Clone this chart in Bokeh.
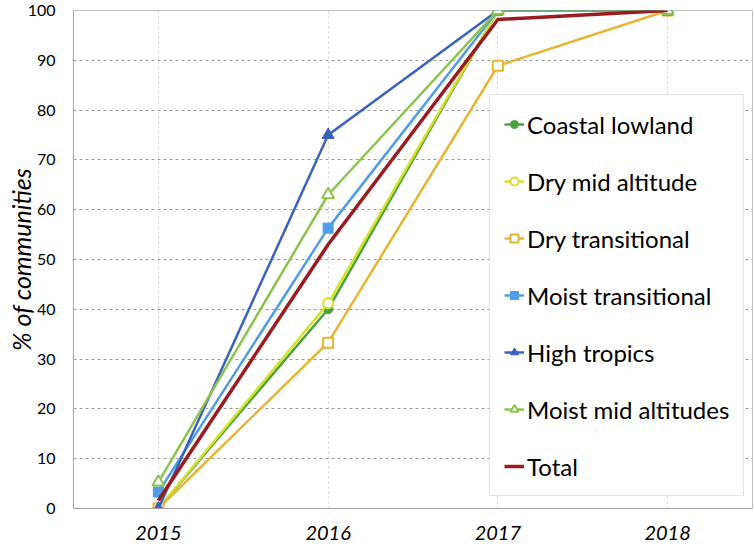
from bokeh.plotting import figure
from bokeh.models import FactorRange, Range1d, Legend, SingleIntervalTicker
from bokeh.embed import file_html
from bokeh.resources import INLINE

years = ["2015", "2016", "2017", "2018"]

coastal_lowland = [0, 40, 100, 100]
dry_mid_altitude = [0, 41.2, 100, 100]
dry_transitional = [0, 33.3, 88.9, 100]
moist_transitional = [3.3, 56.3, 100, 100]
high_tropics = [0, 75, 100, 100]
moist_mid_altitudes = [5.3, 63, 100, 100]
total = [1.6, 53, 98.2, 100]

series_names = ["Coastal lowland", "Dry mid altitude", "Dry transitional",
                "Moist transitional", "High tropics", "Moist mid altitudes", "Total"]
y_title = "% of communities"

FONT = "Lato"

p = figure(width=754, height=546, x_range=FactorRange(*years), y_range=Range1d(0, 100),
           output_backend="svg", toolbar_location=None,
           min_border_left=73, min_border_right=2, min_border_top=10, min_border_bottom=38)

p.background_fill_color = "white"
p.border_fill_color = "white"
p.outline_line_color = "#bfbfbf"
p.outline_line_width = 1

# grids
p.ygrid.grid_line_color = "#999999"
p.ygrid.grid_line_dash = "3 3"
p.ygrid.grid_line_width = 1
p.xgrid.grid_line_color = "#d0d0d0"
p.xgrid.grid_line_dash = "2 3"
p.xgrid.grid_line_width = 1

# axes
p.yaxis.ticker = SingleIntervalTicker(interval=10, num_minor_ticks=0)
for ax in (p.xaxis[0], p.yaxis[0]):
    ax.axis_line_color = "#a6a6a6"
    ax.major_tick_line_color = None
    ax.minor_tick_line_color = None
    ax.major_tick_out = 0
    ax.major_tick_in = 0
    ax.major_label_text_font = FONT
    ax.major_label_text_color = "black"

p.yaxis.major_label_text_font_size = "16px"
p.yaxis.major_label_standoff = 18
p.yaxis.axis_label = y_title
p.yaxis.axis_label_text_font = FONT
p.yaxis.axis_label_text_font_style = "italic"
p.yaxis.axis_label_text_font_size = "25px"
p.yaxis.axis_label_text_color = "black"
p.yaxis.axis_label_standoff = -11

p.xaxis.major_label_text_font_size = "20px"
p.xaxis.major_label_text_font_style = "italic"
p.xaxis.major_label_standoff = 17

lw = 2.5
items = []

r1 = p.line(years, coastal_lowland, line_color="#4aa23c", line_width=lw)
m1 = p.scatter(years, coastal_lowland, marker="circle", size=9, fill_color="#4aa23c", line_color="#4aa23c")
items.append((series_names[0], [r1, m1]))

r2 = p.line(years, dry_mid_altitude, line_color="#d6e12a", line_width=lw)
m2 = p.scatter(years, dry_mid_altitude, marker="circle", size=10, fill_color="white", line_color="#d6e12a", line_width=2)
items.append((series_names[1], [r2, m2]))

r3 = p.line(years, dry_transitional, line_color="#e8b431", line_width=lw)
m3 = p.scatter(years, dry_transitional, marker="square", size=10, fill_color="white", line_color="#e8b431", line_width=2)
items.append((series_names[2], [r3, m3]))

r4 = p.line(years, moist_transitional, line_color="#4e9de6", line_width=lw)
m4 = p.scatter(years, moist_transitional, marker="square", size=10, fill_color="#4e9de6", line_color="#4e9de6")
items.append((series_names[3], [r4, m4]))

r5 = p.line(years, high_tropics, line_color="#3762bd", line_width=lw)
m5 = p.scatter(years, high_tropics, marker="triangle", size=12, fill_color="#3762bd", line_color="#3762bd")
items.append((series_names[4], [r5, m5]))

r6 = p.line(years, moist_mid_altitudes, line_color="#8cc44b", line_width=lw)
m6 = p.scatter(years, moist_mid_altitudes, marker="triangle", size=12, fill_color="white", line_color="#8cc44b", line_width=2)
items.append((series_names[5], [r6, m6]))

r7 = p.line(years, total, line_color="#9b1b1f", line_width=3.5)
items.append((series_names[6], [r7]))

legend = Legend(items=items, location=(416, 12))
legend.label_text_font = FONT
legend.label_text_font_size = "24px"
legend.label_text_color = "black"
legend.glyph_width = 20
legend.glyph_height = 20
legend.label_height = 30
legend.spacing = 27
legend.padding = 14
legend.margin = 0
legend.label_standoff = 3
legend.border_line_color = "#c8c8c8"
legend.border_line_width = 1
legend.background_fill_color = "white"
legend.background_fill_alpha = 1
p.add_layout(legend, "center")

open("out.html", "w").write(file_html(p, INLINE))
